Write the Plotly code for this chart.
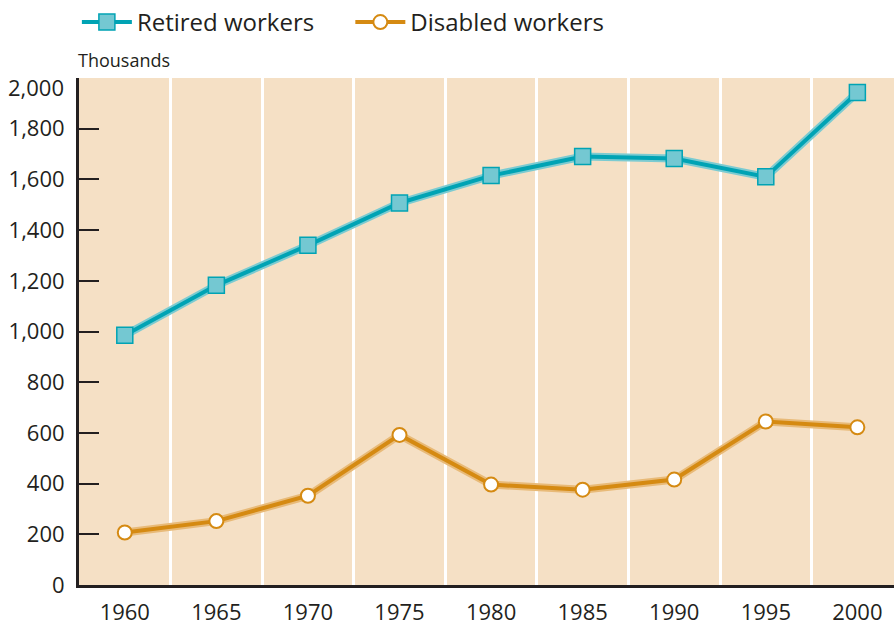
import plotly.graph_objects as go

years = [1960, 1965, 1970, 1975, 1980, 1985, 1990, 1995, 2000]
retired = [985, 1182, 1340, 1507, 1615, 1690, 1682, 1610, 1943]
disabled = [207, 252, 352, 592, 396, 376, 416, 645, 622]
y_ticks = [0, 200, 400, 600, 800, 1000, 1200, 1400, 1600, 1800]
y_labels = ["0", "200", "400", "600", "800", "1,000", "1,200", "1,400", "1,600", "1,800"]

teal = "#00A3B4"
teal_halo = "#7CCBD1"
orange = "#D58A12"
orange_halo = "#E8BA78"
bg = "#F5E0C5"
font = "'Open Sans', sans-serif"
nb = "\u00a0"

fig = go.Figure()
fig.add_trace(go.Scatter(x=years, y=retired, mode="lines", line=dict(color=teal_halo, width=8),
                         showlegend=False, hoverinfo="skip"))
fig.add_trace(go.Scatter(x=years, y=disabled, mode="lines", line=dict(color=orange_halo, width=8),
                         showlegend=False, hoverinfo="skip"))
fig.add_trace(go.Scatter(x=years, y=retired, mode="lines+markers", name="Retired workers" + nb * 5,
                         line=dict(color=teal, width=4),
                         marker=dict(symbol="square", size=16, color="#74C8D2",
                                     line=dict(color=teal, width=1.5))))
fig.add_trace(go.Scatter(x=years, y=disabled, mode="lines+markers", name="Disabled workers",
                         line=dict(color=orange, width=4),
                         marker=dict(symbol="circle", size=14, color="white",
                                     line=dict(color=orange, width=2))))

fig.update_layout(
    width=894, height=626,
    margin=dict(l=79, r=0, t=78, b=41, autoexpand=False),
    paper_bgcolor="white", plot_bgcolor=bg,
    font=dict(family=font, color="#231F20"),
    legend=dict(orientation="h", x=0.086, y=1.0, yref="container", yanchor="top",
                xref="container", font=dict(size=24, family=font), itemwidth=50,
                bgcolor="rgba(0,0,0,0)", traceorder="normal"),
    xaxis=dict(range=[1957.5, 2002.0], tickvals=years, ticktext=[str(y) for y in years],
               showgrid=False, zeroline=False, showline=True, linecolor="#231F20", linewidth=3,
               ticks="", tickfont=dict(size=22, family=font), ticklabelstandoff=6, automargin=False,
               minor=dict(tick0=1962.5, dtick=5, showgrid=True, gridcolor="white", gridwidth=2.5, ticks="")),
    yaxis=dict(range=[0, 2000], tickvals=y_ticks, ticktext=y_labels, showgrid=False, zeroline=False,
               showline=True, linecolor="#231F20", linewidth=3, ticks="inside", ticklen=20,
               tickwidth=1.5, tickcolor="#231F20", tickfont=dict(size=22, family=font),
               ticklabelstandoff=7, automargin=False),
)
fig.add_annotation(text="2,000", xref="paper", yref="paper", x=0, y=1, xanchor="right",
                   yanchor="top", xshift=-13, yshift=8, showarrow=False, font=dict(size=22, family=font))
fig.add_annotation(text="Thousands", xref="paper", yref="paper", x=0, y=1, xanchor="left",
                   yanchor="bottom", xshift=-3, yshift=4, showarrow=False, font=dict(size=18, family=font))
fig.write_html("out.html", config={"displayModeBar": False},
               post_script="document.body.style.margin='0';document.body.style.overflow='hidden';")
